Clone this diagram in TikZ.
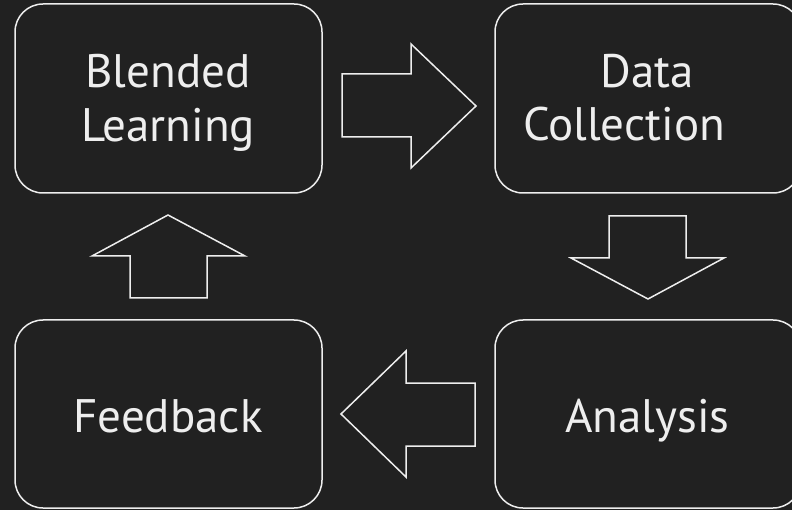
\documentclass[tikz,border=0pt]{standalone}
\usepackage{fontspec}
\setmainfont{PT Sans}
\definecolor{bgc}{HTML}{212121}
\definecolor{fgc}{HTML}{EEEEEE}
\begin{document}
\begin{tikzpicture}[x=1pt,y=-1pt,
  box/.style={draw=fgc, line width=1.5pt, fill=bgc, rounded corners=28pt},
  blockarrow/.style={draw=fgc, line width=1.5pt, fill=bgc, line join=miter},
  txt/.style={text=fgc, inner sep=0pt, anchor=base, font=\fontsize{47}{54}\selectfont}]
\useasboundingbox (0,0) rectangle (792,510);
\fill[bgc] (0,0) rectangle (792,510);
\clip (0,0) rectangle (792,510);
% boxes
\draw[box] (15,4) rectangle (322,193);
\draw[box] (495,4) rectangle (801,193);
\draw[box] (15,320) rectangle (322,508);
\draw[box] (495,320) rectangle (801,508);
% texts
\node[txt] (t1a) at (168,88) {Blended};
\node[txt] (t1b) at (168,142) {Learning};
\node[txt] (t2a) at (647.5,88) {Data};
\node[txt] (t2b) at (624,141) {Collection};
\node[txt] (t3) at (168,432) {Feedback};
\node[txt] (t4) at (647.5,432) {Analysis};
% block arrows
\draw[blockarrow] (342,74) -- (411,74) -- (411,44) -- (476,106) -- (411,168) -- (411,137) -- (342,137) -- cycle;
\draw[blockarrow] (609,216) -- (686,216) -- (686,258) -- (724,258) -- (648,299) -- (571,258) -- (609,258) -- cycle;
\draw[blockarrow] (168,215) -- (245,256) -- (207,256) -- (207,298) -- (130,298) -- (130,256) -- (92,256) -- cycle;
\draw[blockarrow] (341,414) -- (406,351) -- (406,383) -- (475,383) -- (475,446) -- (406,446) -- (406,477) -- cycle;
\end{tikzpicture}
\end{document}
